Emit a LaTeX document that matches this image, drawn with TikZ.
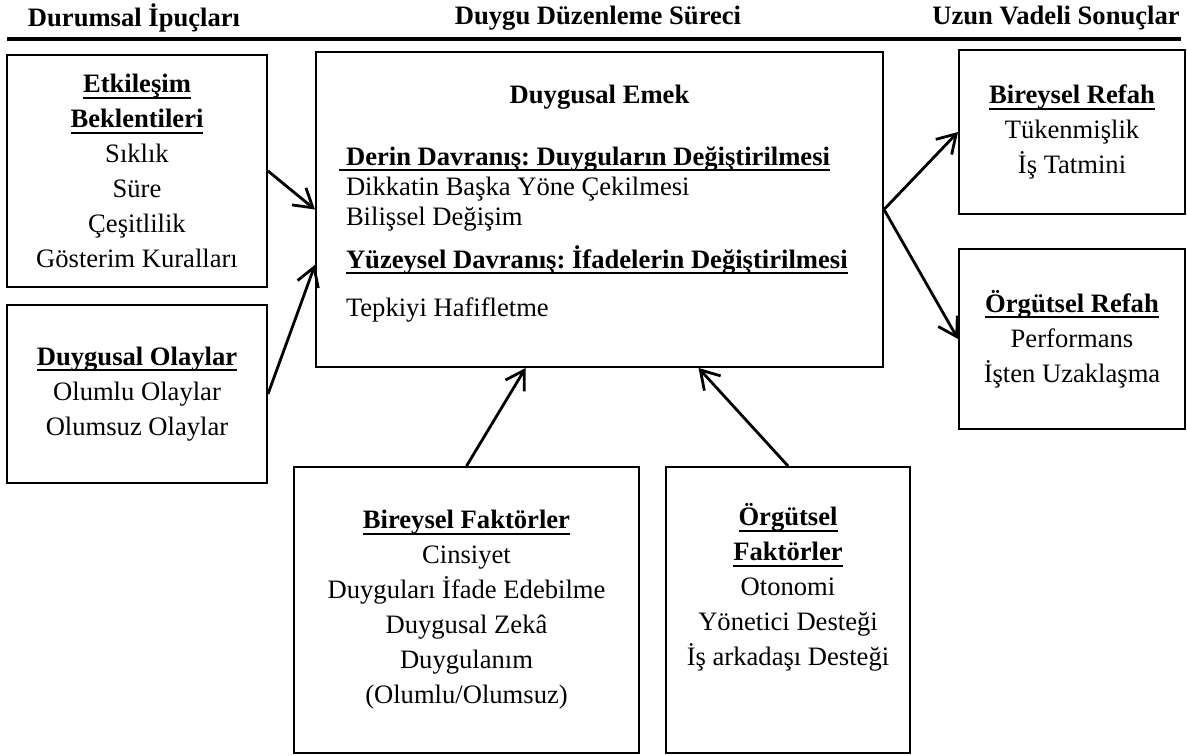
\documentclass[tikz,border=0pt]{standalone}
\usepackage{fontspec}
\setmainfont{Liberation Serif}
\usetikzlibrary{positioning,arrows.meta}
\frenchspacing

% bold heading with a word-style underline
\newcommand{\ulbf}[1]{\leavevmode\setbox0\hbox{\textbf{#1}}\rlap{\rule[-3pt]{\wd0}{1pt}}\box0}

\begin{document}
\begin{tikzpicture}[
  x=0.5pt, y=-0.5pt,
  font=\fontsize{13.3}{17.5}\selectfont,
  box/.style={rectangle, draw, line width=1pt, align=center, inner sep=0pt},
  header/.style={font=\fontsize{13.3}{17.5}\selectfont\bfseries},
  arrow/.style={-{Straight Barb[length=9pt,width=11pt]}, line width=1.4pt}
]
\useasboundingbox (0,0) rectangle (1187,755);

% Headers
\node[header] (hleft) at (134,18) {Durumsal İpuçları};
\node[header] (hmid) at (598,18) {Duygu Düzenleme Süreci};
\node[header] (hright) at (1056,18) {Uzun Vadeli Sonuçlar};
\draw[line width=2pt] (7,39) -- (1181,39);

% Nodes
\node[box, minimum width=130pt, minimum height=116pt] (etk) at (137,171)
  {\ulbf{Etkileşim}\\ \ulbf{Beklentileri}\\ Sıklık\\ Süre\\ Çeşitlilik\\ Gösterim Kuralları};
\node[box, minimum width=130pt, minimum height=89pt, below=8pt of etk] (olay)
  {\ulbf{Duygusal Olaylar}\\ Olumlu Olaylar\\ Olumsuz Olaylar};
\node[box, minimum width=283.5pt, minimum height=157.5pt, text width=253.5pt, align=flush left,
  font=\fontsize{13.3}{15}\selectfont] (emek) at (599.5,209.5)
  {\mbox{}\hfill\textbf{Duygusal Emek}\hfill\mbox{}\\[16pt]
   \hspace*{-3.3pt}\ulbf{\ Derin Davranış: Duyguların Değiştirilmesi}\\
   Dikkatin Başka Yöne Çekilmesi\\
   Bilişsel Değişim\\[6.5pt]
   \ulbf{Yüzeysel Davranış: İfadelerin Değiştirilmesi}\\[9pt]
   Tepkiyi Hafifletme\\[-6pt]\mbox{}};
\node[box, minimum width=113pt, minimum height=82pt] (brefah) at (1072,132)
  {\ulbf{Bireysel Refah}\\ Tükenmişlik\\ İş Tatmini};
\node[box, minimum width=113pt, minimum height=90pt, below=16.5pt of brefah] (orefah)
  {\ulbf{Örgütsel Refah}\\ Performans\\ İşten Uzaklaşma};
\node[box, minimum width=172.5pt, minimum height=143pt] (bfak) at (466.5,610)
  {\ulbf{Bireysel Faktörler}\\ Cinsiyet\\ Duyguları İfade Edebilme\\ Duygusal Zekâ\\ Duygulanım\\ (Olumlu/Olumsuz)};
\node[box, minimum width=122pt, minimum height=143pt, right=12.5pt of bfak] (ofak)
  {\ulbf{Örgütsel}\\ \ulbf{Faktörler}\\ Otonomi\\ Yönetici Desteği\\ İş arkadaşı Desteği\\[8pt]\mbox{}};

% Arrows
\draw[arrow] (etk.east) -- (emek.west);
\draw[arrow] (olay.east) -- (emek.191.5);
\draw[arrow] (emek.east) -- (brefah.west);
\draw[arrow] (emek.east) -- (orefah.west);
\draw[arrow] (bfak.north) -- (emek.245);
\draw[arrow] (ofak.north) -- (emek.302.3);

\end{tikzpicture}
\end{document}
